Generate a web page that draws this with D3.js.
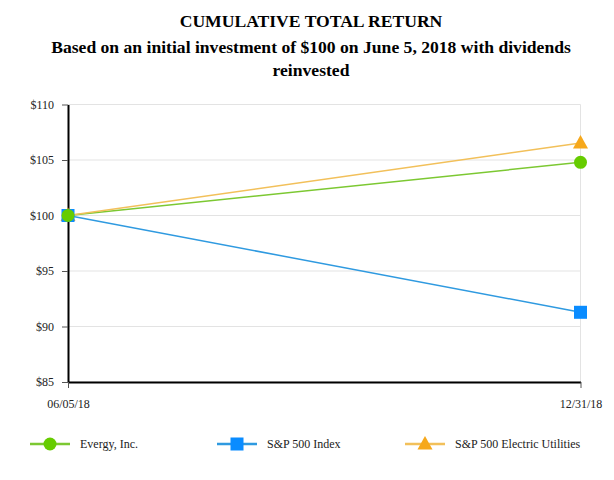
<!DOCTYPE html>
<html><head><meta charset="utf-8">
<script src="https://cdn.jsdelivr.net/npm/d3@7"></script>
<style>body{margin:0;background:#fff;} svg text{font-family:"Liberation Serif","Times New Roman",serif;}</style>
</head><body>
<svg id="c" width="614" height="480"></svg>
<script>
const dates = ["06/05/18", "12/31/18"];
const evergy = [100, 104.79];
const sp500 = [100, 91.28];
const utilities = [100, 106.53];
const yTicks = [85, 90, 95, 100, 105, 110];

const series = [
  {name: "Evergy, Inc.", values: evergy, line: "#7cc832", fill: "#66cc00", shape: "circle"},
  {name: "S&P 500 Index", values: sp500, line: "#2f9ae0", fill: "#0a8cff", shape: "square"},
  {name: "S&P 500 Electric Utilities", values: utilities, line: "#f2c05a", fill: "#f6a81c", shape: "triangle"}
];

const FONT = '"Liberation Serif","Times New Roman",serif';
const svg = d3.select("#c");
const L = 68, R = 580.5, T = 104.5, B = 382;
const x = d3.scalePoint().domain(dates).range([L, R]);
const y = d3.scaleLinear().domain([85, 110]).range([B, T]);

const titles = ["CUMULATIVE TOTAL RETURN",
  "Based on an initial investment of $100 on June 5, 2018 with dividends",
  "reinvested"];
const titleY = [27, 53, 76];
titles.forEach((t, i) => {
  svg.append("text").attr("x", 311).attr("y", titleY[i]).attr("text-anchor", "middle")
    .attr("font-family", FONT).attr("font-size", 17.6).attr("font-weight", "bold").attr("fill", "#000").text(t);
});

// gridlines
svg.append("g").selectAll("line").data(yTicks).join("line")
  .attr("x1", L).attr("x2", R).attr("y1", d => y(d)).attr("y2", d => y(d))
  .attr("stroke", "#e3e3e3").attr("stroke-width", 1);
svg.append("line").attr("x1", x(dates[1])).attr("x2", x(dates[1])).attr("y1", T).attr("y2", B)
  .attr("stroke", "#e3e3e3");

const yAxis = svg.append("g").attr("transform", `translate(${L},0)`)
  .call(d3.axisLeft(y).tickValues(yTicks).tickFormat(d => "$" + d).tickSize(6).tickSizeOuter(0));
yAxis.attr("font-family", FONT);
yAxis.select(".domain").attr("stroke", "#000").attr("stroke-width", 2);
yAxis.selectAll(".tick line").attr("stroke", "#555");
yAxis.selectAll("text").attr("font-size", 12).attr("fill", "#222").attr("dx", -5);

const xAxis = svg.append("g").attr("transform", `translate(0,${B})`)
  .call(d3.axisBottom(x).tickSize(6).tickSizeOuter(0));
xAxis.attr("font-family", FONT);
xAxis.select(".domain").attr("stroke", "#000").attr("stroke-width", 2);
xAxis.selectAll(".tick line").attr("stroke", "#555");
xAxis.selectAll("text").attr("font-size", 12).attr("fill", "#222").attr("dy", 17);

const line = d3.line().x((d, i) => x(dates[i])).y(d => y(d));
function marker(g, shape, cx, cy, fill) {
  if (shape === "circle") g.append("circle").attr("cx", cx).attr("cy", cy).attr("r", 6.5).attr("fill", fill);
  else if (shape === "square") g.append("rect").attr("x", cx - 6.5).attr("y", cy - 6.5).attr("width", 13).attr("height", 13).attr("fill", fill);
  else g.append("path").attr("d", `M${cx},${cy - 8}L${cx + 7.5},${cy + 5.5}L${cx - 7.5},${cy + 5.5}Z`).attr("fill", fill);
}

series.forEach(s => {
  svg.append("path").attr("d", line(s.values)).attr("fill", "none").attr("stroke", s.line).attr("stroke-width", 1.5);
});
[2, 1, 0].forEach(k => {
  const s = series[k];
  const g = svg.append("g");
  s.values.forEach((v, i) => marker(g, s.shape, x(dates[i]), y(v), s.fill));
});

// legend
const lx = [30, 217, 405];
series.forEach((s, i) => {
  const g = svg.append("g");
  g.append("line").attr("x1", lx[i]).attr("x2", lx[i] + 40).attr("y1", 444).attr("y2", 444)
    .attr("stroke", s.line).attr("stroke-width", 2.5);
  marker(g, s.shape, lx[i] + 20, 444, s.fill);
  g.append("text").attr("x", lx[i] + 50).attr("y", 448).attr("font-family", FONT)
    .attr("font-size", 12).attr("fill", "#222").text(s.name);
});
</script>
</body></html>
